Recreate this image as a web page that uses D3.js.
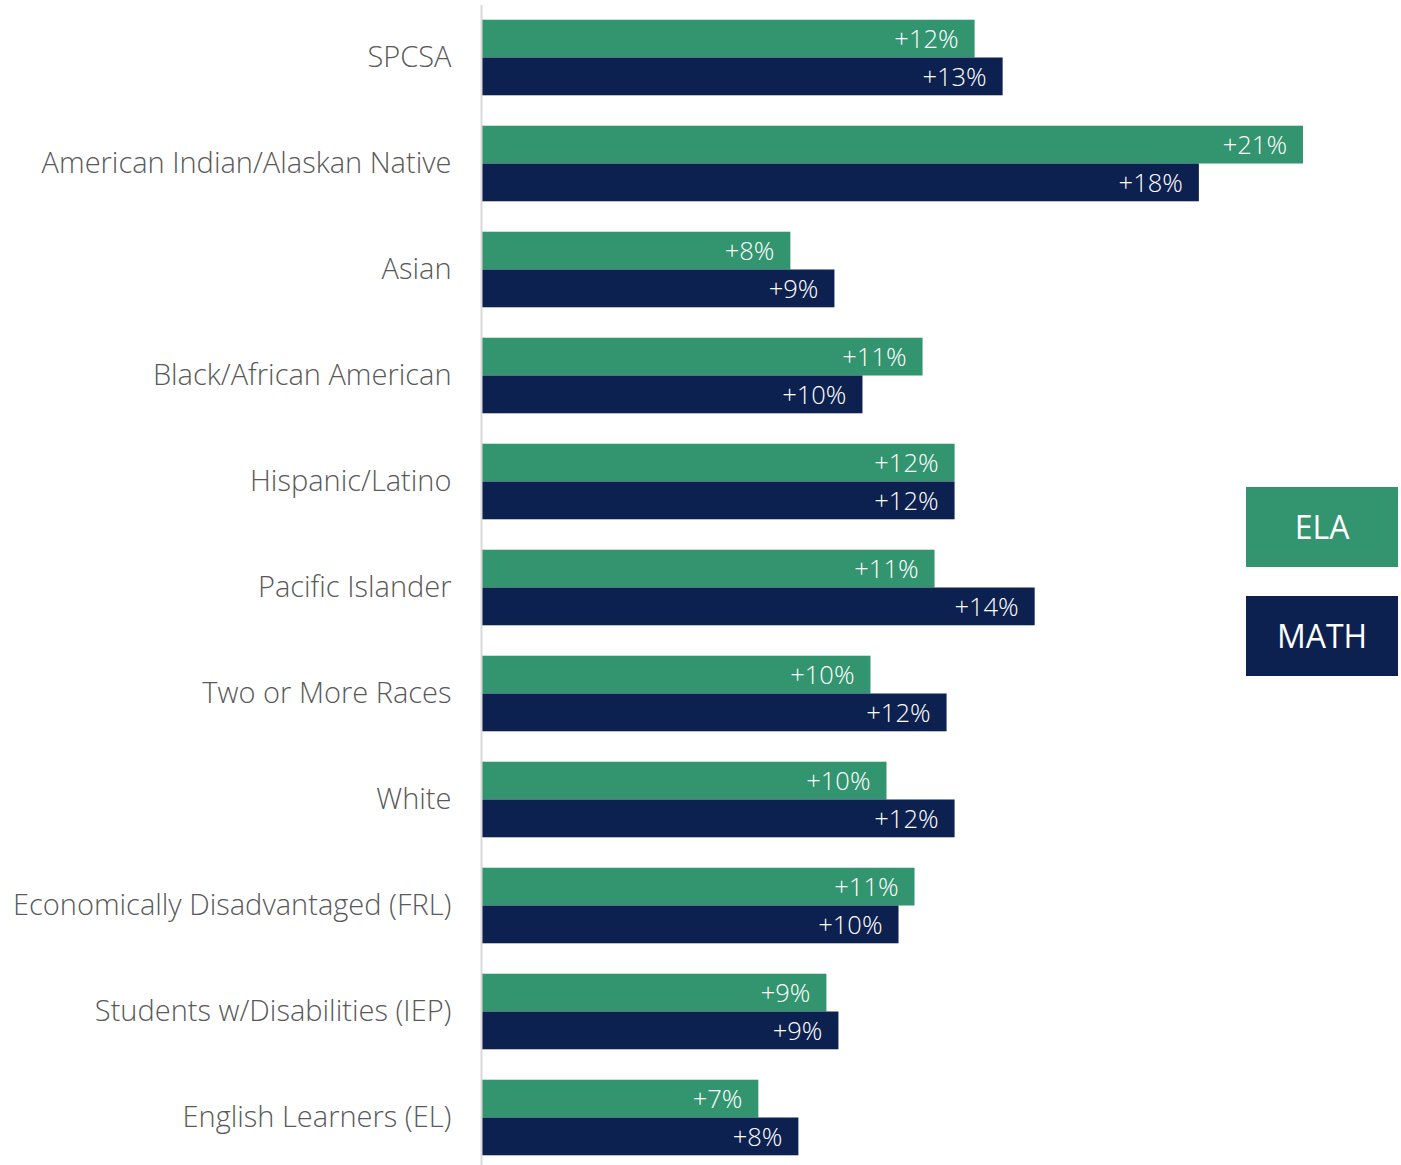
<html>
  <head>
    <title>Achievement gains by student group</title>
    <script src="https://d3js.org/d3.v7.min.js"></script>
    <style>
      body { margin: 0; background: #fff; }
      text { font-family: "Open Sans", "Noto Sans", sans-serif; }
    </style>
  </head>
  <body>
    <script>
      const w = 1401;
      const h = 1165;

      // student groups, top to bottom
      const groups = [
        "SPCSA",
        "American Indian/Alaskan Native",
        "Asian",
        "Black/African American",
        "Hispanic/Latino",
        "Pacific Islander",
        "Two or More Races",
        "White",
        "Economically Disadvantaged (FRL)",
        "Students w/Disabilities (IEP)",
        "English Learners (EL)"
      ];
      // gain in percentage points
      const elaValues = [12.3, 20.5, 7.7, 11.0, 11.8, 11.3, 9.7, 10.1, 10.8, 8.6, 6.9];
      const mathValues = [13.0, 17.9, 8.8, 9.5, 11.8, 13.8, 11.6, 11.8, 10.4, 8.9, 7.9];
      // labels as printed on the bars
      const elaLabels = ["+12%", "+21%", "+8%", "+11%", "+12%", "+11%", "+10%", "+10%", "+11%", "+9%", "+7%"];
      const mathLabels = ["+13%", "+18%", "+9%", "+10%", "+12%", "+14%", "+12%", "+12%", "+10%", "+9%", "+8%"];
      const seriesNames = ["ELA", "MATH"];
      const colors = ["#339470", "#0d2150"];

      const x0 = 482;
      const xScale = d3.scaleLinear().domain([0, 20.5]).range([x0, 1303]);

      const yScale = d3
        .scaleBand()
        .domain(groups)
        .range([4.5, 4.5 + 106 * groups.length])
        .paddingInner(0.287)
        .paddingOuter(0.1435);

      const sub = d3.scaleBand().domain(seriesNames).range([0, yScale.bandwidth()]);

      const svg = d3.select("body").append("svg").attr("width", w).attr("height", h);

      const rows = groups.map((g, i) => ({
        g: g,
        vals: [
          { s: "ELA", v: elaValues[i], label: elaLabels[i] },
          { s: "MATH", v: mathValues[i], label: mathLabels[i] }
        ]
      }));

      const row = svg
        .selectAll("g.row")
        .data(rows)
        .enter()
        .append("g")
        .attr("class", "row")
        .attr("transform", (d) => "translate(0," + yScale(d.g) + ")");

      row
        .selectAll("rect")
        .data((d) => d.vals)
        .enter()
        .append("rect")
        .attr("x", xScale(0))
        .attr("y", (d) => sub(d.s))
        .attr("width", (d) => xScale(d.v) - xScale(0))
        .attr("height", sub.bandwidth())
        .attr("fill", (d, i) => colors[i]);

      row
        .selectAll("text.val")
        .data((d) => d.vals)
        .enter()
        .append("text")
        .attr("class", "val")
        .attr("x", (d) => xScale(d.v) - 16)
        .attr("y", (d) => sub(d.s) + sub.bandwidth() / 2)
        .attr("dy", "0.36em")
        .attr("text-anchor", "end")
        .attr("fill", "#fff")
        .attr("font-size", 25.5)
        .attr("font-weight", 300)
        .text((d) => d.label);

      // category axis
      const yAxis = d3.axisLeft(yScale).tickSize(0).tickPadding(30);
      const ax = svg
        .append("g")
        .attr("transform", "translate(" + (x0 - 0.5) + ",0)")
        .call(yAxis);
      ax.select(".domain").attr("stroke", "#d9d9d9").attr("stroke-width", 2)
        .attr("d", "M0,5V1165");
      ax.selectAll(".tick text")
        .attr("fill", "#595959")
        .attr("font-size", 29)
        .attr("font-weight", 300)
        .attr("font-family", "'Open Sans', sans-serif");

      // legend
      const legend = svg
        .selectAll("g.legend")
        .data(seriesNames)
        .enter()
        .append("g")
        .attr("class", "legend")
        .attr("transform", (d, i) => "translate(1246," + (487 + i * 109) + ")");
      legend
        .append("rect")
        .attr("width", 152)
        .attr("height", 80)
        .attr("fill", (d, i) => colors[i]);
      legend
        .append("text")
        .attr("x", 76)
        .attr("y", 40)
        .attr("dy", "0.36em")
        .attr("text-anchor", "middle")
        .attr("fill", "#fff")
        .attr("font-size", 32)
        .text((d) => d);
    </script>
  </body>
</html>
